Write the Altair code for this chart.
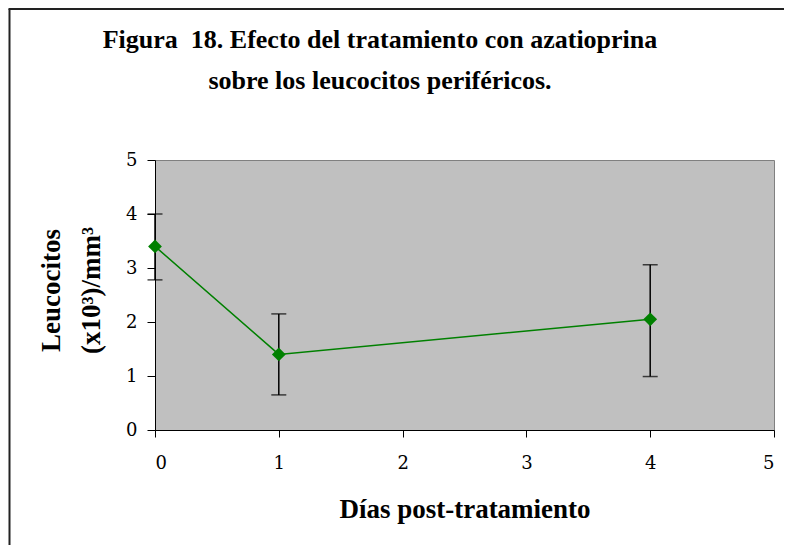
import altair as alt
import pandas as pd

# data
dias = [0, 1, 4]
leucocitos = [3.4, 1.4, 2.05]
err_low = [2.78, 0.65, 0.99]
err_high = [4.0, 2.15, 3.06]

x_ticks = [0, 1, 2, 3, 4, 5]
y_ticks = [0, 1, 2, 3, 4, 5]

title_lines = ["Figura\u00a0 18. Efecto del tratamiento con azatioprina",
               "sobre los leucocitos periféricos."]
x_title = "Días post-tratamiento"
y_title = ["Leucocitos", "(x10³)/mm³"]

df = pd.DataFrame({"dias": dias, "leuco": leucocitos, "lo": err_low, "hi": err_high})

W, H = 619, 270
PAD_L, PAD_T = 147, 152
PAD_R = 776 - PAD_L - W
PAD_B = 537 - PAD_T - H

SERIF_BOLD = "Liberation Serif"
LABEL_FONT = "DejaVu Serif, Liberation Serif, serif"

xscale = alt.Scale(domain=[0, 5], nice=False)
yscale = alt.Scale(domain=[0, 5], nice=False)

xaxis = alt.Axis(values=x_ticks, format="d", grid=False, tickSize=7, labelPadding=17,
                 title=x_title, titleFont=SERIF_BOLD, titleFontSize=27,
                 titleFontWeight="bold", titleColor="black", titleY=87,
                 titleBaseline="alphabetic")
yaxis = alt.Axis(values=y_ticks, format="d", grid=False, tickSize=8, labelPadding=10,
                 title=y_title, titleFont=SERIF_BOLD, titleFontSize=27,
                 titleFontWeight="bold", titleColor="black", titleX=-104, titleY=130,
                 titleBaseline="middle", titleLineHeight=40, titleAlign="center")

base = alt.Chart(df)

bars = base.mark_rule(color="black", strokeWidth=1.5).encode(
    x=alt.X("dias:Q", scale=xscale, axis=xaxis),
    y=alt.Y("lo:Q", scale=yscale, axis=yaxis),
    y2="hi:Q",
)
cap_lo = base.mark_tick(color="black", orient="horizontal", size=15, thickness=1.5).encode(
    x=alt.X("dias:Q", scale=xscale), y=alt.Y("lo:Q", scale=yscale))
cap_hi = base.mark_tick(color="black", orient="horizontal", size=15, thickness=1.5).encode(
    x=alt.X("dias:Q", scale=xscale), y=alt.Y("hi:Q", scale=yscale))

line = base.mark_line(color="#008000", strokeWidth=1.5).encode(
    x=alt.X("dias:Q", scale=xscale), y=alt.Y("leuco:Q", scale=yscale))
pts = base.mark_point(shape="diamond", filled=True, color="#008000", size=190, opacity=1).encode(
    x=alt.X("dias:Q", scale=xscale), y=alt.Y("leuco:Q", scale=yscale))

one = pd.DataFrame({"a": [0]})
# outer chart-area frame (left and top edges)
frame_left = alt.Chart(one).mark_rule(color="#222222", strokeWidth=2).encode(
    x=alt.value(-145.5), y=alt.value(-151), y2=alt.value(PAD_B + H + 10))
frame_top = alt.Chart(one).mark_rule(color="#222222", strokeWidth=2).encode(
    x=alt.value(-146.5), x2=alt.value(W + PAD_R + 10), y=alt.value(-151))

# chart title (two centred lines)
title1 = alt.Chart(one).mark_text(font=SERIF_BOLD, fontSize=26, fontWeight="bold", color="black",
                                  align="center", baseline="alphabetic").encode(
    x=alt.value(225), y=alt.value(-112), text=alt.value(title_lines[0]))
title2 = alt.Chart(one).mark_text(font=SERIF_BOLD, fontSize=26, fontWeight="bold", color="black",
                                  align="center", baseline="alphabetic").encode(
    x=alt.value(225), y=alt.value(-71), text=alt.value(title_lines[1]))

chart = alt.layer(bars, cap_lo, cap_hi, line, pts, frame_left, frame_top, title1, title2).properties(
    width=W, height=H,
    padding={"left": PAD_L, "top": PAD_T, "right": PAD_R, "bottom": PAD_B},
    autosize=alt.AutoSizeParams(type="none"),
    background="white",
).configure_view(
    fill="#C0C0C0", stroke="#808080", strokeWidth=1
).configure_axis(
    domainColor="black", tickColor="black", labelColor="black",
    labelFont=LABEL_FONT, labelFontSize=18, domainWidth=1, tickWidth=1,
)

chart.save("out.html", embed_options={"renderer": "svg", "actions": False})
